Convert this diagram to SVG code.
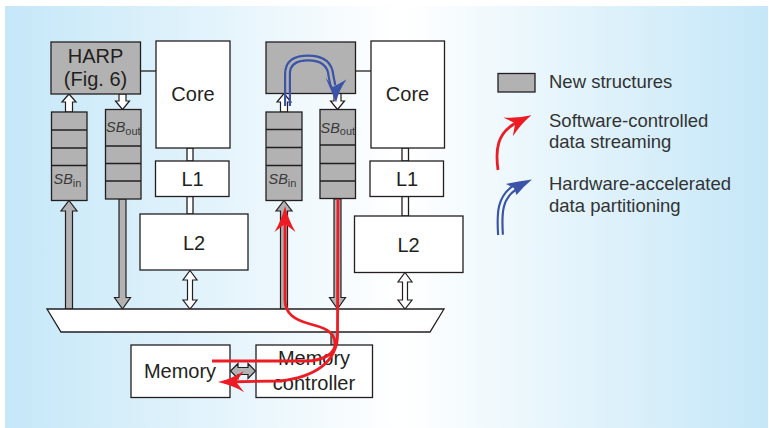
<svg xmlns="http://www.w3.org/2000/svg" width="769" height="428" viewBox="0 0 769 428">
<style>
.box{fill:#ffffff;stroke:#231f20;stroke-width:1.3}
.new{fill:#b2b2b2;stroke:#231f20;stroke-width:1.3}
.div{stroke:#231f20;stroke-width:1.3;fill:none}
.harr{fill:#ffffff;stroke:#231f20;stroke-width:1.2;stroke-linejoin:miter}
.garr{fill:#b2b2b2;stroke:#231f20;stroke-width:1.2;stroke-linejoin:miter}
.lbl{font-family:"Liberation Sans",Arial,Helvetica,sans-serif;font-size:20px;fill:#231f20;text-anchor:middle}
.sb{font-family:"Liberation Sans",Arial,Helvetica,sans-serif;font-size:14.5px;font-style:italic;fill:#3a3a3a}
.sub{font-size:11px;font-style:normal}
.leg{font-family:"Liberation Sans",Arial,Helvetica,sans-serif;font-size:18.5px;fill:#333333}
.red{fill:none;stroke:#ed1c24;stroke-width:2.8;stroke-linejoin:round}
.blue{fill:none;stroke:#3b54a8;stroke-width:7}
.bhead{fill:#3b54a8}
</style>
<defs>
<linearGradient id="bg" x1="0" y1="0" x2="1" y2="0">
<stop offset="0" stop-color="#c5e7f8"/>
<stop offset="0.52" stop-color="#ffffff"/>
<stop offset="1" stop-color="#c5e7f8"/>
</linearGradient>
<marker id="redHead" markerUnits="userSpaceOnUse" orient="auto" refX="0" refY="0" markerWidth="40" markerHeight="30" viewBox="-30 -15 40 30" overflow="visible">
<path d="M6,0 Q-7,-3 -20,-10.5 L-12,0 L-20,10.5 Q-7,3 6,0 Z" fill="#ed1c24"/>
</marker>
<mask id="dbl" maskUnits="userSpaceOnUse" x="0" y="0" width="769" height="428">
<path d="M287.5,106 L287.5,74 C287.5,62 296,58 308,58 C321,58 330,63 331,76 L333,86" fill="none" stroke="#fff" stroke-width="8"/>
<path d="M287.5,106 L287.5,74 C287.5,62 296,58 308,58 C321,58 330,63 331,76 L333,86" fill="none" stroke="#000" stroke-width="2.6"/>
<path d="M500.5,235 C499,212 500,198 514,188 L518,186" fill="none" stroke="#fff" stroke-width="8"/>
<path d="M500.5,235 C499,212 500,198 514,188 L518,186" fill="none" stroke="#000" stroke-width="2.6"/>
</mask>
</defs>

<rect x="5" y="6" width="763" height="422" fill="url(#bg)"/>

<g id="connectors">
<line x1="140" y1="71" x2="156" y2="71" stroke="#231f20" stroke-width="1.3"/>
<line x1="355" y1="71" x2="371" y2="71" stroke="#231f20" stroke-width="1.3"/>
<rect class="box" x="187" y="148" width="6" height="13"/>
<rect class="box" x="187" y="196.5" width="6" height="17.5"/>
<rect class="box" x="402" y="148" width="6.5" height="13"/>
<rect class="box" x="402" y="196.5" width="6.5" height="19.5"/>
<polygon class="harr" points="69,94 76,102 72.5,102 72.5,112 65.5,112 65.5,102 62,102"/>
<polygon class="harr" points="122.5,109.5 129.5,101 126,101 126,94 119,94 119,101 115.5,101"/>
<polygon class="harr" points="284,93.5 291,102 287.5,102 287.5,112 280.5,112 280.5,102 277,102"/>
<polygon class="harr" points="337.5,109.5 344.5,101 341,101 341,93.5 334,93.5 334,101 330.5,101"/>
<polygon class="garr" points="69,200.5 77,211 72.5,211 72.5,309 65.5,309 65.5,211 61,211"/>
<polygon class="garr" points="122.5,309 130.5,297.5 126,297.5 126,199 119,199 119,297.5 114.5,297.5"/>
<polygon class="garr" points="284,200.5 292,211 287.5,211 287.5,309 280.5,309 280.5,211 276,211"/>
<polygon class="garr" points="337.5,309 345.5,297.5 341,297.5 341,199 334,199 334,297.5 329.5,297.5"/>
<polygon class="harr" points="190,270.5 197,280 192.5,280 192.5,300 197,300 190,309 183,300 187.5,300 187.5,280 183,280"/>
<polygon class="harr" points="405,272.5 412,282 407.5,282 407.5,300 412,300 405,309 398,300 402.5,300 402.5,282 398,282"/>
<rect class="garr" x="331" y="331" width="6.5" height="14"/>
<polygon class="garr" points="230.5,371 238,363.5 238,367.5 248,367.5 248,363.5 255.5,371 248,378.5 248,374.5 238,374.5 238,378.5"/>
</g>

<g id="harp1">
<rect class="new" x="51" y="42" width="89.5" height="52"/>
<text class="lbl" x="95.5" y="62.5">HARP</text>
<text class="lbl" x="95.5" y="86">(Fig. 6)</text>
</g>
<g id="core1">
<rect class="box" x="156" y="41" width="74" height="107"/>
<text class="lbl" x="193" y="101">Core</text>
</g>
<g id="l1a">
<rect class="box" x="155.5" y="161" width="73.5" height="35.5"/>
<text class="lbl" x="192.5" y="186">L1</text>
</g>
<g id="l2a">
<rect class="box" x="140" y="214" width="108" height="56"/>
<text class="lbl" x="194" y="249.5">L2</text>
</g>
<g id="sbin1">
<rect class="new" x="51.5" y="112" width="35.5" height="88.5"/>
<path class="div" d="M51.5,130H87M51.5,148H87M51.5,165.5H87"/>
<text class="sb" x="53.5" y="184">SB<tspan class="sub" dy="2.5">in</tspan></text>
</g>
<g id="sbout1">
<rect class="new" x="105.5" y="109.5" width="35.5" height="89.5"/>
<path class="div" d="M105.5,146H141M105.5,163.5H141M105.5,181H141"/>
<text class="sb" x="106" y="132">SB<tspan class="sub" dy="2.5">out</tspan></text>
</g>

<g id="harp2">
<rect class="new" x="266" y="42" width="89.5" height="51.5"/>
</g>
<g id="core2">
<rect class="box" x="371" y="41" width="73.5" height="107"/>
<text class="lbl" x="407.5" y="101">Core</text>
</g>
<g id="l1b">
<rect class="box" x="370" y="161" width="73.5" height="35.5"/>
<text class="lbl" x="407" y="186">L1</text>
</g>
<g id="l2b">
<rect class="box" x="354.5" y="216" width="108.5" height="56.5"/>
<text class="lbl" x="408.5" y="251.5">L2</text>
</g>
<g id="sbin2">
<rect class="new" x="266" y="112" width="36" height="88.5"/>
<path class="div" d="M266,129.5H302M266,147.5H302M266,165.5H302"/>
<text class="sb" x="268.5" y="184">SB<tspan class="sub" dy="2.5">in</tspan></text>
</g>
<g id="sbout2">
<rect class="new" x="320" y="109.5" width="35.5" height="89"/>
<path class="div" d="M320,145H355.5M320,163.5H355.5M320,181H355.5"/>
<text class="sb" x="320.5" y="132.5">SB<tspan class="sub" dy="2.5">out</tspan></text>
</g>

<g id="bus">
<polygon class="box" points="47,309 444,309 430,332 61,332"/>
</g>
<g id="memory">
<rect class="box" x="131" y="345" width="99" height="52.5"/>
<text class="lbl" x="180" y="378">Memory</text>
</g>
<g id="controller">
<rect class="box" x="256" y="345" width="116.5" height="52.5"/>
<text class="lbl" x="314" y="365">Memory</text>
<text class="lbl" x="314" y="390">controller</text>
</g>

<g id="flows">
<path class="red" d="M212,361 L305,361 C326,361 336,352 335,342 C334,331 322,327 310,324 C295,320 285,314 285,300 L285,212" marker-end="url(#redHead)"/>
<path class="red" d="M338,199 L337.5,335 C337,362 315,377 280,381 L224,382" marker-end="url(#redHead)"/>
<g mask="url(#dbl)">
<path class="blue" d="M287.5,106 L287.5,74 C287.5,62 296,58 308,58 C321,58 330,63 331,76 L333,86"/>
</g>
<path class="bhead" d="M336,102.5 Q331,90 325.5,77.5 L333,87 L346.5,79.5 Q339,90 336,102.5 Z"/>
</g>

<g id="legend">
<rect class="new" x="498" y="73.5" width="37" height="18.5"/>
<text class="leg" x="549" y="87.5">New structures</text>
<path class="red" d="M498,170 C495,148 498,134 514,124 L526,118" marker-end="url(#redHead)"/>
<text class="leg" x="549" y="126.5">Software-controlled</text>
<text class="leg" x="549" y="147.5">data streaming</text>
<g mask="url(#dbl)">
<path class="blue" d="M500.5,235 C499,212 500,198 514,188 L518,186"/>
</g>
<path class="bhead" d="M532,179.5 Q519,181 506,184 L514,188 L516.5,195 Q524,186 532,179.5 Z"/>
<text class="leg" x="549" y="190">Hardware-accelerated</text>
<text class="leg" x="549" y="211.5">data partitioning</text>
</g>
</svg>
